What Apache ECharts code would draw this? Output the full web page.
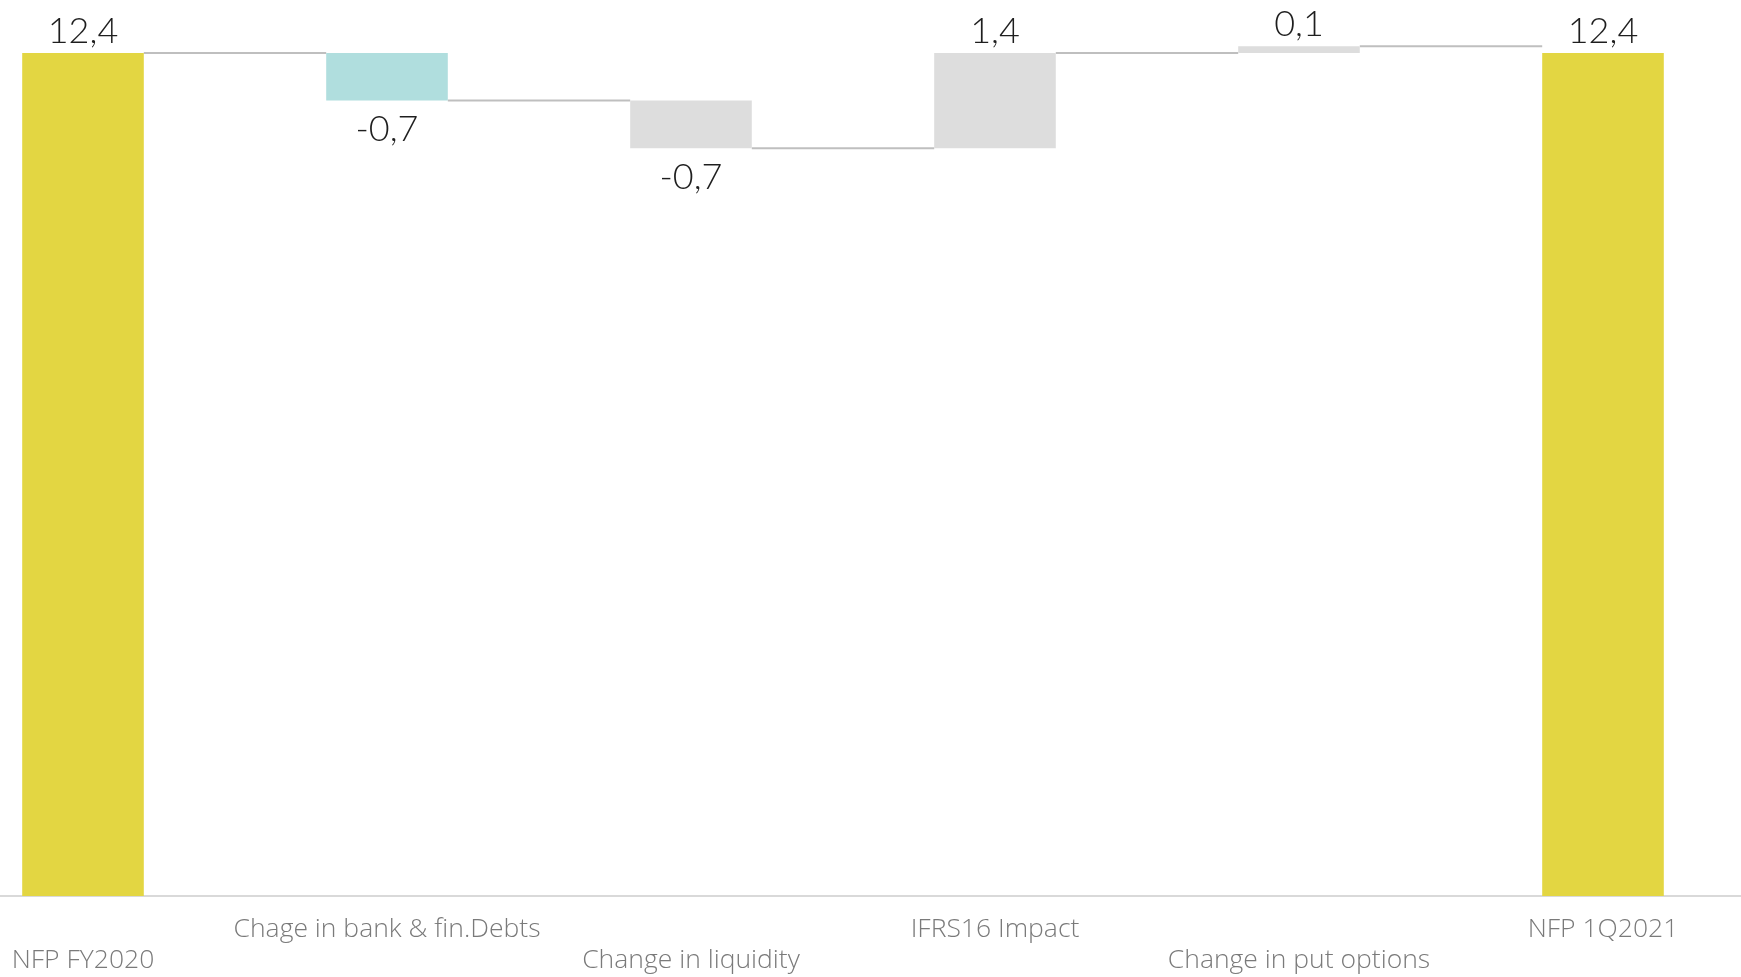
<!DOCTYPE html>
<html>
<head>
<meta charset="utf-8">
<title>NFP bridge</title>
<script src="https://cdn.jsdelivr.net/npm/echarts@6/dist/echarts.min.js"></script>
<style>
  html, body { margin: 0; padding: 0; background: #ffffff; }
  #chart { width: 1741px; height: 977px; }
</style>
</head>
<body>
<div id="chart"></div>
<script>
// Net financial position bridge, FY2020 -> 1Q2021
const categories = ['NFP FY2020', 'Chage in bank & fin.Debts', 'Change in liquidity', 'IFRS16 Impact', 'Change in put options', 'NFP 1Q2021'];
const values = [12.4, -0.7, -0.7, 1.4, 0.1, 12.4];
const isTotal = [true, false, false, false, false, true];
const barColors = ['#E3D642', '#B0DEDE', '#DDDDDD', '#DDDDDD', '#DDDDDD', '#E3D642'];

// Build invisible bases, visible segments and running levels for the waterfall
const bases = [];
const segments = [];
const levels = [];
let running = 0;
values.forEach(function (v, i) {
  if (isTotal[i]) {
    bases.push(0);
    segments.push(v);
    running = v;
  } else if (v >= 0) {
    bases.push(running);
    segments.push(v);
    running = running + v;
  } else {
    running = running + v;
    bases.push(running);
    segments.push(-v);
  }
  levels.push(Math.round(running * 100) / 100);
});

function fmt(v) {
  return v.toFixed(1).replace('.', ',');
}

const valueFont = 'Lato, "Open Sans", sans-serif';
const axisFont = '"Open Sans", Lato, sans-serif';

const segmentData = segments.map(function (s, i) {
  const neg = values[i] < 0;
  return {
    value: s,
    itemStyle: { color: barColors[i] },
    label: {
      show: true,
      position: neg ? 'bottom' : 'top',
      distance: neg ? 11 : 4,
      formatter: fmt(values[i])
    }
  };
});

// Connector lines from the end of one bar to the start of the next
const connectorData = levels.slice(0, -1).map(function (lv, i) { return [i, lv]; });

const chart = echarts.init(document.getElementById('chart'), null, { renderer: 'canvas' });
chart.setOption({
  backgroundColor: '#ffffff',
  animation: false,
  grid: {
    left: -69,
    width: 1824,
    top: 0,
    bottom: 81,
    containLabel: false,
    outerBoundsMode: 'none'
  },
  xAxis: {
    type: 'category',
    data: categories,
    axisLine: { show: true, lineStyle: { color: '#D9D9D9', width: 2 } },
    axisTick: { show: false },
    axisLabel: {
      interval: 0,
      hideOverlap: false,
      margin: 18,
      color: '#7A7A7A',
      fontFamily: axisFont,
      fontWeight: 300,
      fontSize: 26.5,
      lineHeight: 31,
      formatter: function (value, index) {
        return index % 2 === 0 ? '\n' + value : value;
      }
    },
    splitLine: { show: false }
  },
  yAxis: {
    type: 'value',
    min: 0,
    max: 13.18,
    show: false,
    splitLine: { show: false }
  },
  series: [
    {
      type: 'bar',
      stack: 'bridge',
      data: bases,
      barWidth: '40%',
      itemStyle: { color: 'rgba(0,0,0,0)' },
      emphasis: { disabled: true },
      silent: true
    },
    {
      type: 'bar',
      stack: 'bridge',
      data: segmentData,
      barWidth: '40%',
      label: {
        color: '#1E1E1E',
        fontFamily: valueFont,
        fontWeight: 300,
        fontSize: 36
      },
      emphasis: { disabled: true }
    },
    {
      type: 'custom',
      data: connectorData,
      silent: true,
      z: 1,
      renderItem: function (params, api) {
        const i = api.value(0);
        const lv = api.value(1);
        const band = api.size([1, 0])[0];
        const half = band * 0.4 / 2;
        const p1 = api.coord([i, lv]);
        const p2 = api.coord([i + 1, lv]);
        return {
          type: 'line',
          shape: { x1: p1[0] + half, y1: p1[1], x2: p2[0] - half, y2: p1[1] },
          style: { stroke: '#BFBFBF', lineWidth: 2 }
        };
      }
    }
  ]
});
</script>
</body>
</html>
